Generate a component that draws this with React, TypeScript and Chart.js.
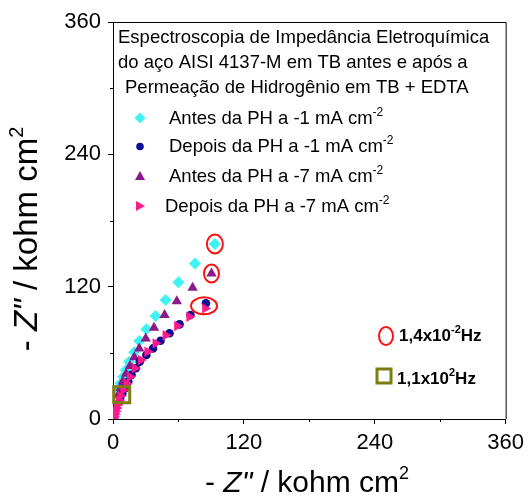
import { useEffect, useRef } from 'react';
import { Chart, registerables } from 'chart.js';

Chart.register(...registerables);

const FONT = "'Liberation Sans', Arial, Helvetica, sans-serif";

// Header text and series names
const titleLines = [
  'Espectroscopia de Impedância Eletroquímica',
  'do aço AISI 4137-M em TB antes e após a',
  'Permeação de Hidrogênio em TB + EDTA',
];
const seriesLabels = [
  'Antes da PH a -1 mA cm',
  'Depois da PH a -1 mA cm',
  'Antes da PH a -7 mA cm',
  'Depois da PH a -7 mA cm',
];
const unitExponent = '-2';

// Nyquist data, kohm cm² (Z' , -Z'')
const antes1X = [93.4, 75.2, 60, 48.2, 39, 30.6, 24, 19.4, 14.8, 11.8, 9.4, 7, 5.2, 3.8];
const antes1Y = [158.7, 141, 124, 108, 93.4, 81.3, 70.7, 60.5, 52, 44.4, 38.4, 32.4, 27, 22];

const depois1X = [85.2, 71, 61, 51.8, 43.6, 36.7, 30.6, 24.5, 20.9, 17, 14, 11, 8.5, 6.5];
const depois1Y = [104.9, 94.3, 85.8, 77.7, 71, 64, 58, 52, 46, 40, 34, 28, 23, 19];

const antes7X = [90.3, 73, 58.5, 47.3, 37.6, 30, 24, 19.5, 15.5, 12, 9, 7, 5];
const antes7Y = [132, 119, 106.7, 94.3, 82.8, 73, 64, 56, 48, 41, 34, 28, 22];

const depois7X = [84.5, 70, 58.8, 48.2, 39, 31.5, 25.5, 20, 15.5, 12.4, 9.4, 7, 5.5, 4.2, 3.2, 2.4, 1.7, 1, 0.5];
const depois7Y = [100.3, 92.7, 84.3, 76, 68.6, 61, 53.5, 46, 38.4, 32.3, 26.3, 21, 17, 13, 10, 7, 4.5, 2.5, 0.8];

// Axis ticks
const majorTicks = [0, 120, 240, 360];
const minorTicks = [60, 180, 300];

// Frequency markers
const lowFreqMantissa = '1,4x10';
const lowFreqExp = '-2';
const highFreqMantissa = '1,1x10';
const highFreqExp = '2';
const highFreqPoint = { x: 8, y: 22 };

const COLORS = ['#3ff3f3', '#0c0c96', '#8a1a8a', '#ff1a8c'];
const RED = '#ff1010';
const OLIVE = '#7d7d12';

const toPoints = (xs: number[], ys: number[]) => xs.map((x, i) => ({ x, y: ys[i] }));

type Run = { text: string; font: string; rise?: number };

function drawRuns(ctx: CanvasRenderingContext2D, runs: Run[], x: number, y: number, center = false) {
  let total = 0;
  const widths = runs.map((r) => {
    ctx.font = r.font;
    const w = ctx.measureText(r.text).width;
    total += w;
    return w;
  });
  let cur = center ? x - total / 2 : x;
  ctx.textAlign = 'left';
  ctx.textBaseline = 'alphabetic';
  runs.forEach((r, i) => {
    ctx.font = r.font;
    ctx.fillText(r.text, cur, y - (r.rise || 0));
    cur += widths[i];
  });
}

function legendMarker(ctx: CanvasRenderingContext2D, kind: number, x: number, y: number) {
  ctx.fillStyle = COLORS[kind];
  ctx.beginPath();
  if (kind === 0) {
    const r = 5.5;
    ctx.moveTo(x - r, y);
    ctx.lineTo(x, y - r);
    ctx.lineTo(x + r, y);
    ctx.lineTo(x, y + r);
  } else if (kind === 1) {
    ctx.arc(x, y, 3.8, 0, Math.PI * 2);
  } else if (kind === 2) {
    ctx.moveTo(x, y - 5);
    ctx.lineTo(x + 5, y + 4);
    ctx.lineTo(x - 5, y + 4);
  } else {
    ctx.moveTo(x + 5, y);
    ctx.lineTo(x - 4, y + 5);
    ctx.lineTo(x - 4, y - 5);
  }
  ctx.closePath();
  ctx.fill();
}

const overlay = {
  id: 'overlay',
  afterDraw(chart: any) {
    const ctx: CanvasRenderingContext2D = chart.ctx;
    const { left, right, top, bottom } = chart.chartArea;
    const xs = chart.scales.x;
    const ys = chart.scales.y;
    ctx.save();

    // frame: top and right edges
    ctx.strokeStyle = '#000';
    ctx.lineWidth = 1;
    ctx.beginPath();
    ctx.moveTo(left, top + 0.5);
    ctx.lineTo(right + 0.5, top + 0.5);
    ctx.lineTo(right + 0.5, bottom);
    ctx.stroke();

    // minor ticks
    ctx.beginPath();
    minorTicks.forEach((v) => {
      const px = Math.round(xs.getPixelForValue(v)) + 0.5;
      ctx.moveTo(px, bottom);
      ctx.lineTo(px, bottom + 3);
      const py = Math.round(ys.getPixelForValue(v)) + 0.5;
      ctx.moveTo(left, py);
      ctx.lineTo(left - 3, py);
    });
    ctx.stroke();

    // header
    ctx.fillStyle = '#000';
    const f = `18.5px ${FONT}`;
    drawRuns(ctx, [{ text: titleLines[0], font: f }], 118, 43);
    drawRuns(ctx, [{ text: titleLines[1], font: f }], 118, 68);
    drawRuns(ctx, [{ text: titleLines[2], font: f }], 125, 93);

    // legend
    const rowsY = [123.5, 152, 181.5, 211.5];
    const textX = [169, 169, 169, 165];
    seriesLabels.forEach((lbl, i) => {
      legendMarker(ctx, i, 140, rowsY[i] - 5.5);
      ctx.fillStyle = '#000';
      drawRuns(ctx, [
        { text: lbl, font: f },
        { text: unitExponent, font: `12px ${FONT}`, rise: 8 },
      ], textX[i], rowsY[i]);
    });

    // frequency key
    ctx.strokeStyle = RED;
    ctx.lineWidth = 2;
    ctx.beginPath();
    ctx.ellipse(386, 336, 7, 9, 0, 0, Math.PI * 2);
    ctx.stroke();
    ctx.fillStyle = '#000';
    const bf = `bold 17px ${FONT}`;
    drawRuns(ctx, [
      { text: lowFreqMantissa, font: bf },
      { text: lowFreqExp, font: `bold 11px ${FONT}`, rise: 8 },
      { text: 'Hz', font: bf },
    ], 399, 341);
    ctx.strokeStyle = OLIVE;
    ctx.lineWidth = 3;
    ctx.strokeRect(377, 369, 14, 14);
    drawRuns(ctx, [
      { text: highFreqMantissa, font: bf },
      { text: highFreqExp, font: `bold 11px ${FONT}`, rise: 8 },
      { text: 'Hz', font: bf },
    ], 397, 384);

    // axis titles
    ctx.fillStyle = '#000';
    drawRuns(ctx, [
      { text: '- ', font: `30px ${FONT}` },
      { text: 'Z"', font: `italic 30px ${FONT}` },
      { text: ' / kohm cm', font: `30px ${FONT}` },
      { text: '2', font: `18px ${FONT}`, rise: 13 },
    ], 307, 492, true);

    ctx.save();
    ctx.translate(37, 239);
    ctx.rotate(-Math.PI / 2);
    drawRuns(ctx, [
      { text: '- ', font: `33px ${FONT}` },
      { text: 'Z"', font: `italic 33px ${FONT}` },
      { text: ' / kohm cm', font: `33px ${FONT}` },
      { text: '2', font: `20px ${FONT}`, rise: 14 },
    ], 0, 0, true);
    ctx.restore();

    ctx.restore();
  },
  afterDatasetsDraw(chart: any) {
    const ctx: CanvasRenderingContext2D = chart.ctx;
    const xs = chart.scales.x;
    const ys = chart.scales.y;
    const px = (v: number) => xs.getPixelForValue(v);
    const py = (v: number) => ys.getPixelForValue(v);
    ctx.save();
    ctx.strokeStyle = RED;
    ctx.lineWidth = 2;
    // lowest-frequency points
    const a1 = { x: px(antes1X[0]), y: py(antes1Y[0]) };
    const a7 = { x: px(antes7X[0]), y: py(antes7Y[0]) };
    const dx = (px(depois1X[0]) + px(depois7X[0])) / 2;
    const dy = (py(depois1Y[0]) + py(depois7Y[0])) / 2;
    ctx.beginPath();
    ctx.ellipse(a1.x, a1.y, 8, 9.5, 0, 0, Math.PI * 2);
    ctx.stroke();
    ctx.beginPath();
    ctx.ellipse(a7.x, a7.y, 7.5, 9, 0, 0, Math.PI * 2);
    ctx.stroke();
    ctx.beginPath();
    ctx.ellipse(dx - 1.5, dy, 13, 8.5, 0, 0, Math.PI * 2);
    ctx.stroke();
    // high-frequency point
    ctx.strokeStyle = OLIVE;
    ctx.lineWidth = 3;
    const hx = px(highFreqPoint.x);
    const hy = py(highFreqPoint.y);
    ctx.strokeRect(hx - 8, hy - 8, 16, 16);
    ctx.restore();
  },
};

export default function App() {
  const ref = useRef<HTMLCanvasElement | null>(null);

  useEffect(() => {
    if (!ref.current) return;
    const tickFont = { family: FONT, size: 22 };
    const chart = new Chart(ref.current, {
      type: 'scatter',
      data: {
        datasets: [
          {
            label: seriesLabels[0],
            data: toPoints(antes1X, antes1Y),
            pointStyle: 'rectRot',
            pointRadius: 6,
            backgroundColor: COLORS[0],
            borderWidth: 0,
            order: 3,
          },
          {
            label: seriesLabels[1],
            data: toPoints(depois1X, depois1Y),
            pointStyle: 'circle',
            pointRadius: 4.3,
            backgroundColor: COLORS[1],
            borderWidth: 0,
            order: 1,
          },
          {
            label: seriesLabels[2],
            data: toPoints(antes7X, antes7Y),
            pointStyle: 'triangle',
            pointRadius: 6,
            backgroundColor: COLORS[2],
            borderWidth: 0,
            order: 2,
          },
          {
            label: seriesLabels[3],
            data: toPoints(depois7X, depois7Y),
            pointStyle: 'triangle',
            rotation: 90,
            pointRadius: 6,
            backgroundColor: COLORS[3],
            borderWidth: 0,
            order: 0,
          },
        ],
      },
      options: {
        animation: false,
        responsive: false,
        devicePixelRatio: 1,
        layout: { padding: { top: 22, right: 21, left: 0, bottom: 0 } },
        plugins: { legend: { display: false }, tooltip: { enabled: false } },
        scales: {
          x: {
            type: 'linear',
            min: 0,
            max: 360,
            afterBuildTicks: (s: any) => {
              s.ticks = majorTicks.map((v) => ({ value: v }));
            },
            afterFit: (s: any) => {
              s.height = 78;
            },
            ticks: { color: '#000', font: tickFont, padding: 6, maxRotation: 0 },
            grid: { drawOnChartArea: false, tickLength: 5, color: '#000' },
            border: { color: '#000', width: 1 },
          },
          y: {
            type: 'linear',
            min: 0,
            max: 360,
            afterBuildTicks: (s: any) => {
              s.ticks = majorTicks.map((v) => ({ value: v }));
            },
            afterFit: (s: any) => {
              s.width = 113;
            },
            ticks: { color: '#000', font: tickFont, padding: 7 },
            grid: { drawOnChartArea: false, tickLength: 5, color: '#000' },
            border: { color: '#000', width: 1 },
          },
        },
      },
      plugins: [overlay],
    });
    return () => chart.destroy();
  }, []);

  return (
    <div style={{ position: 'absolute', left: 0, top: 0, width: 530, height: 497, background: '#fff' }}>
      <canvas ref={ref} width={530} height={497} />
    </div>
  );
}
